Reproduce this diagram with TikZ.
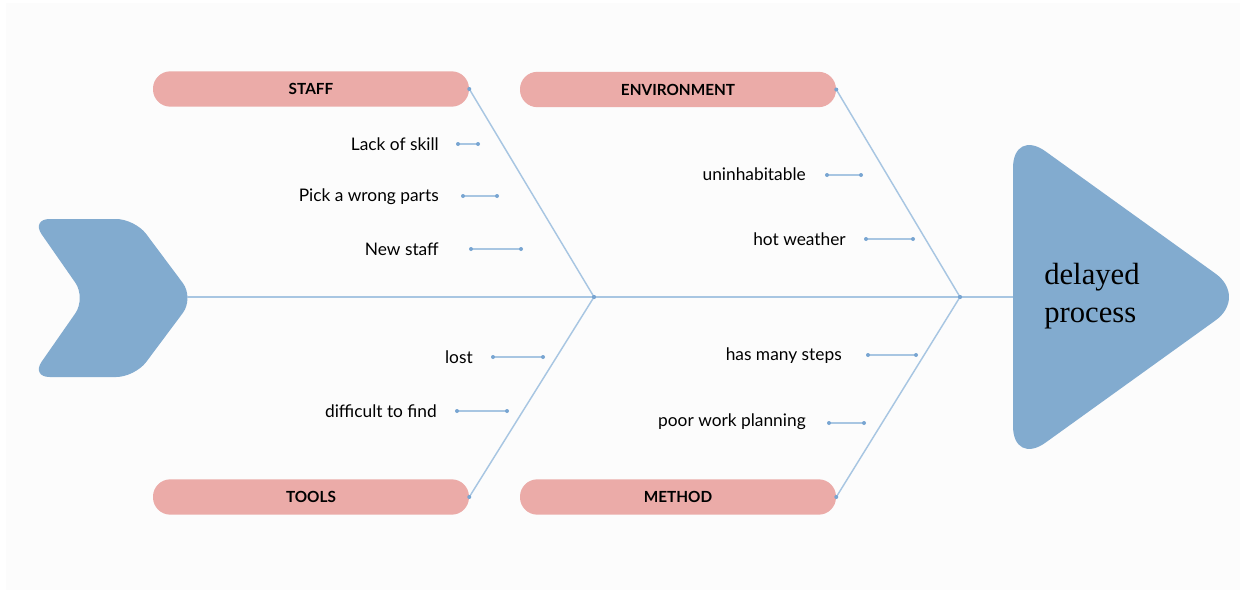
\documentclass[tikz,border=0pt]{standalone}
\usepackage{fontspec}
\setmainfont{Liberation Serif}
\newfontfamily\labelfont{Lato}
\usetikzlibrary{positioning}

\definecolor{bonecol}{RGB}{168,198,226}
\definecolor{dotcol}{RGB}{120,165,210}
\definecolor{fishcol}{RGB}{130,171,207}
\definecolor{pillcol}{RGB}{235,171,168}
\definecolor{bgcol}{RGB}{252,252,252}

\tikzset{
  bone/.style={draw=bonecol, line width=1.1pt},
  pill/.style={fill=pillcol, rounded corners=13pt, minimum width=237pt,
    minimum height=26.5pt, inner sep=0pt,
    font=\labelfont\bfseries\fontsize{11.5}{13}\selectfont},
  cause/.style={anchor=east, inner sep=0pt,
    font=\labelfont\fontsize{13}{15}\selectfont},
}
\newcommand{\knot}[1]{\fill[dotcol] (#1) circle (1.5pt);}
\newcommand{\twig}[2]{\draw[bone] (#1) -- (#2); \knot{#1} \knot{#2}}

\begin{document}
\begin{tikzpicture}[x=0.75pt,y=-0.75pt]
\fill[white] (0,0) rectangle (1246,596);
\fill[bgcol] (6,3) rectangle (1240,590);
\useasboundingbox (0,0) rectangle (1246,596);

% fish tail and head
\fill[fishcol, rounded corners=14pt] (31,219) -- (135,219) -- (194,298) -- (135,377)
  -- (31,377) -- (86,298) -- cycle;
\fill[fishcol, rounded corners=30pt] (1013,128) -- (1248,297) -- (1013,466) -- cycle;
\coordinate (tail) at (187,297);
\coordinate (head) at (1013,297);
\node[anchor=west, align=left, inner sep=0pt, font=\fontsize{23}{28}\selectfont]
  (effect) at (1044,296) {delayed\\process};

% spine
\coordinate (j1) at (594,297);
\coordinate (j2) at (960,297);
\draw[bone] (tail) -- (j1) -- (j2) -- (head);

% categories
\node[pill] (staff) at (311,89) {STAFF};
\node[pill] (environment) at (678,89.5) {ENVIRONMENT};
\node[pill] (tools) at (311,497) {TOOLS};
\node[pill] (method) at (678,497) {METHOD};

\twig{staff.east}{j1}
\twig{tools.east}{j1}
\twig{environment.east}{j2}
\twig{method.east}{j2}

% causes
\node[cause] (skill) at (439,144) {Lack of skill};
\coordinate (skilla) at (458,144);
\coordinate (skillb) at (478,144);
\twig{skilla}{skillb}

\node[cause] (parts) at (439,197) {Pick a wrong parts};
\coordinate (partsa) at (463,196);
\coordinate (partsb) at (497,196);
\twig{partsa}{partsb}

\node[cause] (newstaff) at (439,249) {New staff};
\coordinate (newstaffa) at (471,249);
\coordinate (newstaffb) at (521,249);
\twig{newstaffa}{newstaffb}

\node[cause] (uninhab) at (806,174) {uninhabitable};
\coordinate (uninhaba) at (827,175);
\coordinate (uninhabb) at (861,175);
\twig{uninhaba}{uninhabb}

\node[cause] (weather) at (846,239) {hot weather};
\coordinate (weathera) at (866,239);
\coordinate (weatherb) at (913,239);
\twig{weathera}{weatherb}

\node[cause] (lost) at (473,357) {lost};
\coordinate (losta) at (493,357);
\coordinate (lostb) at (543,357);
\twig{losta}{lostb}

\node[cause] (find) at (437,411) {difficult to find};
\coordinate (finda) at (457,411);
\coordinate (findb) at (507,411);
\twig{finda}{findb}

\node[cause] (steps) at (842,356) {has many steps};
\coordinate (stepsa) at (868,355);
\coordinate (stepsb) at (916,355);
\twig{stepsa}{stepsb}

\node[cause] (planning) at (806,422) {poor work planning};
\coordinate (planninga) at (829,423);
\coordinate (planningb) at (864,423);
\twig{planninga}{planningb}
\end{tikzpicture}
\end{document}
